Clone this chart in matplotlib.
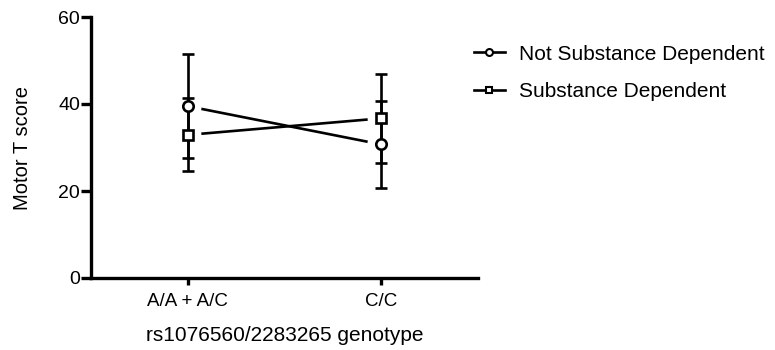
import matplotlib
matplotlib.use("Agg")
import matplotlib.pyplot as plt
import numpy as np
from matplotlib.lines import Line2D

plt.rcParams['font.family'] = ['Liberation Sans', 'DejaVu Sans']

categories = ["A/A + A/C", "C/C"]
series_names = ["Not Substance Dependent", "Substance Dependent"]
not_dep_mean = [39.5, 30.7]
not_dep_err = [11.9, 10.0]
dep_mean = [32.9, 36.7]
dep_err = [8.4, 10.2]
yticks = [0, 20, 40, 60]

fig = plt.figure(figsize=(7.75, 3.5), dpi=100)
ax = fig.add_axes([91/775, 72/350, (478-91)/775, (278-17)/350])

x = np.arange(len(categories))
gap = 0.077
styles = [("o", 7.5), ("s", 7)]
lw = 1.9
handles = []
for (mean, err, name, (mk, ms)) in [
    (not_dep_mean, not_dep_err, series_names[0], styles[0]),
    (dep_mean, dep_err, series_names[1], styles[1]),
]:
    ax.errorbar(x, mean, yerr=err, fmt=mk, ms=ms, mfc="white", mec="black",
                mew=lw, ecolor="black", elinewidth=lw, capsize=4.5, capthick=lw,
                zorder=3)
    m = np.array(mean, dtype=float)
    x0, x1 = x[0] + gap, x[1] - gap
    y0 = m[0] + (m[1] - m[0]) * gap
    y1 = m[1] - (m[1] - m[0]) * gap
    ax.plot([x0, x1], [y0, y1], color="black", lw=lw, zorder=2)
    handles.append(Line2D([0], [0], color="black", lw=lw, marker=mk, ms=5,
                          mfc="white", mec="black", mew=1.5, label=name))

ax.set_xlim(-0.5, 1.5)
ax.set_ylim(0, 60)
ax.set_yticks(yticks)
ax.set_xticks(x)
ax.set_xticklabels(categories)
ax.spines['top'].set_visible(False)
ax.spines['right'].set_visible(False)
for s in ['left', 'bottom']:
    ax.spines[s].set_linewidth(2.4)
ax.tick_params(axis='y', length=7, width=2.4, labelsize=14, pad=1)
ax.tick_params(axis='x', length=5, width=2.4, labelsize=13.5, pad=6)
ax.set_ylabel("Motor T score", fontsize=14.5, labelpad=19)
ax.set_xlabel("rs1076560/2283265 genotype", fontsize=15, labelpad=11)

fig.legend(handles=handles, loc="upper left", bbox_to_anchor=(459/775, 1 - 30/350),
           frameon=False, fontsize=15, handlelength=1.5, handletextpad=0.7,
           labelspacing=0.9, borderpad=0.2)

fig.savefig("out.png", dpi=100)
